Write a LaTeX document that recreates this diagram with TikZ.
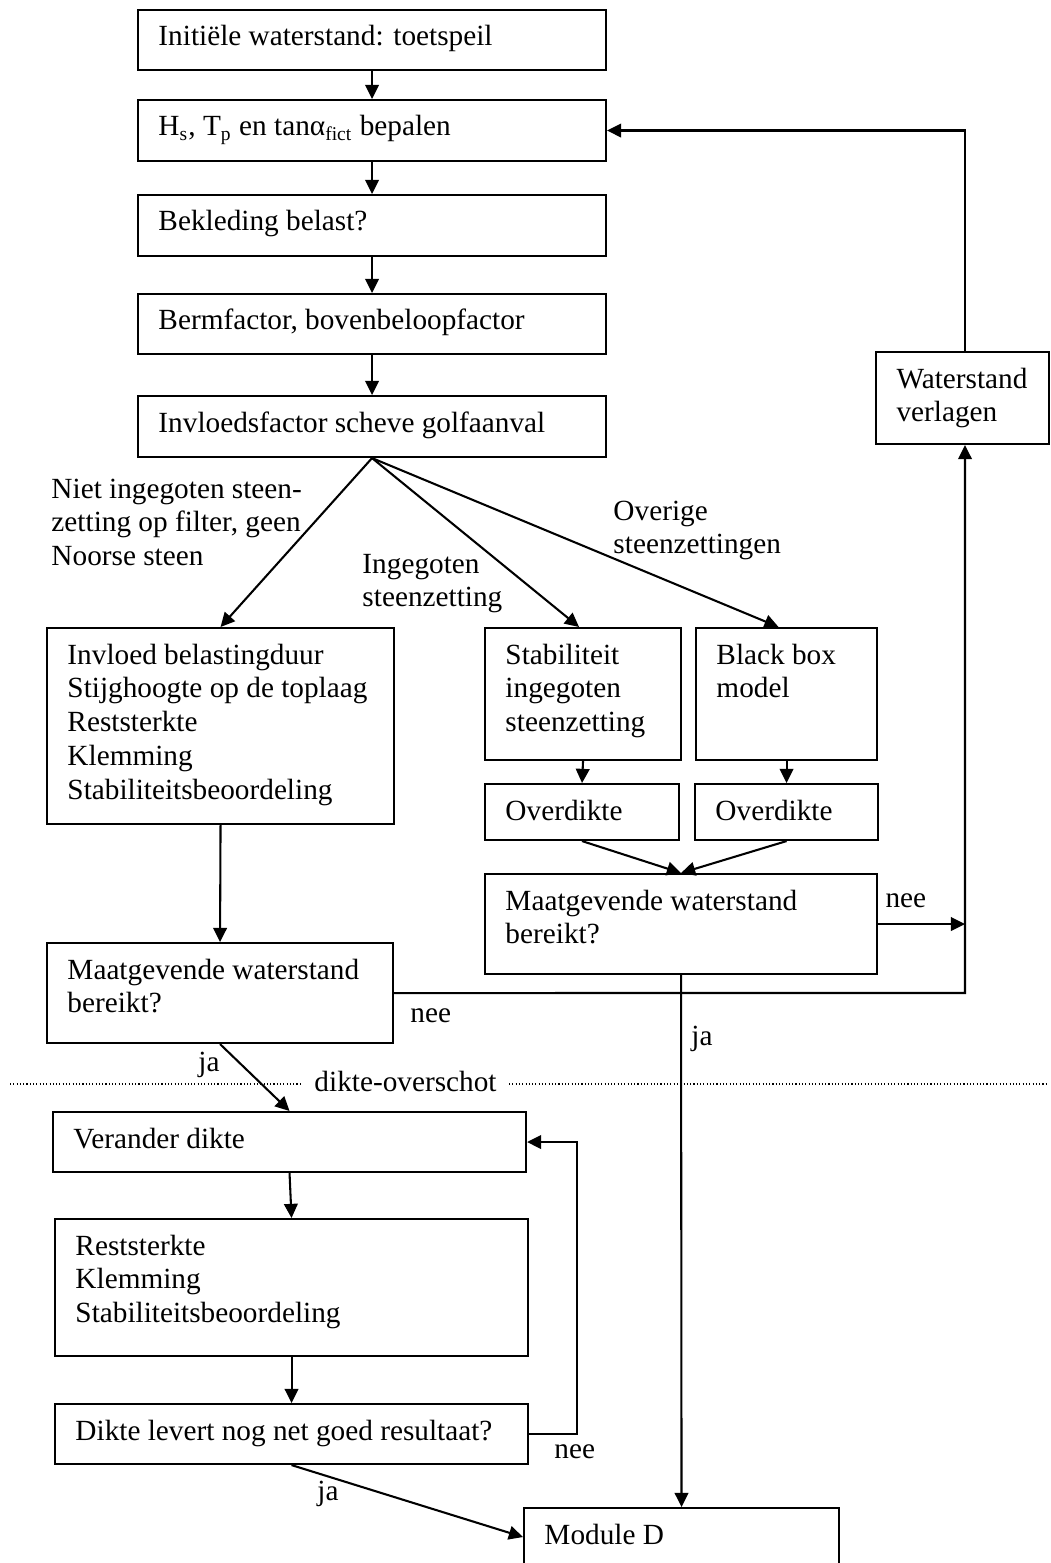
\documentclass[tikz,border=0pt]{standalone}
\usepackage{fontspec}
\setmainfont{Liberation Serif}
\usetikzlibrary{arrows.meta,calc}
\newcommand\ml[1]{\begin{tabular}[t]{@{}l@{}}#1\end{tabular}}
\newcommand\bx[6]{%
  \node[boxst, minimum width={(#4-#2)*0.41pt}, minimum height={(#5-#3)*0.41pt}, anchor=north west] (#1) at (#2,#3) {};
  \node[txt] (#1t) at (#2+21,#3+37) {\ml{#6}};
}
\tikzset{
  boxst/.style={draw, rectangle, line width=0.85pt, inner sep=0pt},
  txt/.style={anchor=base west, inner sep=0pt, font=\fontsize{12}{13.9}\selectfont},
  arr/.style={line width=0.85pt, -{Triangle[length=5.8pt,width=5.6pt]}},
  ln/.style={line width=0.85pt},
  dotline/.style={line width=0.45pt, dash pattern=on 0.45pt off 0.9pt}
}
\begin{document}
\begin{tikzpicture}[x=0.41pt,y=-0.41pt]
\useasboundingbox (0,0) rectangle (1051,1563);
% boxes
\bx{b1}{137}{9}{605}{69}{Initiële waterstand: toetspeil}
\bx{b2}{137}{99}{605}{160}{H\textsubscript{s}, T\textsubscript{p} en tanα\textsubscript{fict} bepalen}
\bx{b3}{137}{194}{605}{255}{Bekleding belast?}
\bx{b4}{137}{293}{605}{353}{Bermfactor, bovenbeloopfactor}
\bx{b5}{137}{395}{605}{456}{Invloedsfactor scheve golfaanval}
\bx{wv}{875}{351}{1048}{443}{Waterstand\\verlagen}
\bx{inv}{46}{627}{393}{823}{Invloed belastingduur\\Stijghoogte op de toplaag\\Reststerkte\\Klemming\\Stabiliteitsbeoordeling}
\bx{stab}{484}{627}{680}{759}{Stabiliteit\\ingegoten\\steenzetting}
\bx{black}{695}{627}{876}{759}{Black box\\model}
\bx{ov1}{484}{783}{678}{839}{Overdikte}
\bx{ov2}{694}{783}{877}{839}{Overdikte}
\bx{m1}{46}{942}{392}{1042}{Maatgevende waterstand\\bereikt?}
\bx{m2}{484}{873}{876}{973}{Maatgevende waterstand\\bereikt?}
\bx{ver}{52}{1111}{525}{1171}{Verander dikte}
\bx{rest}{54}{1218}{527}{1355}{Reststerkte\\Klemming\\Stabiliteitsbeoordeling}
\bx{dik}{54}{1403}{527}{1463}{Dikte levert nog net goed resultaat?}
\bx{mod}{523}{1507}{838}{1565}{Module D}
% labels
\node[txt] (lniet) at (51,498) {\ml{Niet ingegoten steen-\\zetting op filter, geen\\Noorse steen}};
\node[txt] (ling) at (362,573) {\ml{Ingegoten\\steenzetting}};
\node[txt] (lov) at (613,520) {\ml{Overige\\steenzettingen}};
\node[txt] (lnee1) at (885,907) {nee};
\node[txt] (lnee2) at (410,1022) {nee};
\node[txt] (lja1) at (691,1045) {ja};
\node[txt] (lja2) at (198,1071) {ja};
\node[txt] (lnee3) at (554,1458) {nee};
\node[txt] (lja3) at (317,1500) {ja};
\node[txt] (dov) at (314,1091) {dikte-overschot};
% dotted separator
\coordinate (dl) at (10,1084);
\coordinate (dr) at (1048,1084);
\draw[dotline] (dl) -- ($(dl -| dov.west)+(-12,0)$);
\draw[dotline] ($(dr -| dov.east)+(12,0)$) -- (dr);
% connectors
\coordinate (j1) at (965,993);
\draw[arr] (b1.south) -- (b2.north);
\draw[arr] (b2.south) -- (b3.north);
\draw[arr] (b3.south) -- (b4.north);
\draw[arr] (b4.south) -- (b5.north);
\draw[arr] (b5.south) -- (inv.north);
\draw[arr] (b5.south) -- ($(stab.north)+(-4,0)$);
\draw[arr] (b5.south) -- ($(black.north)+(-8,0)$);
\draw[arr] (stab.south) -- (ov1.north);
\draw[arr] (black.south) -- (ov2.north);
\draw[arr] (ov1.south) -- (m2.north);
\draw[arr] (ov2.south) -- (m2.north);
\draw[arr] (inv.south) -- (m1.north);
\draw[arr] (m1.east) -- (j1) -- (j1 |- wv.south);
\draw[arr] (m2.east) -- (m2.east -| j1);
\draw[arr] (wv.north -| j1) |- (b2.east);
\draw[arr] (m2.south) -- (mod.north);
\draw[arr] (m1.south) -- (ver.north);
\draw[arr] (ver.south) -- (rest.north);
\draw[arr] (rest.south) -- (dik.north);
\draw[arr] (dik.east) -- ++(48,0) |- (ver.east);
\draw[arr] (dik.south) -- (mod.west);
\end{tikzpicture}
\end{document}
